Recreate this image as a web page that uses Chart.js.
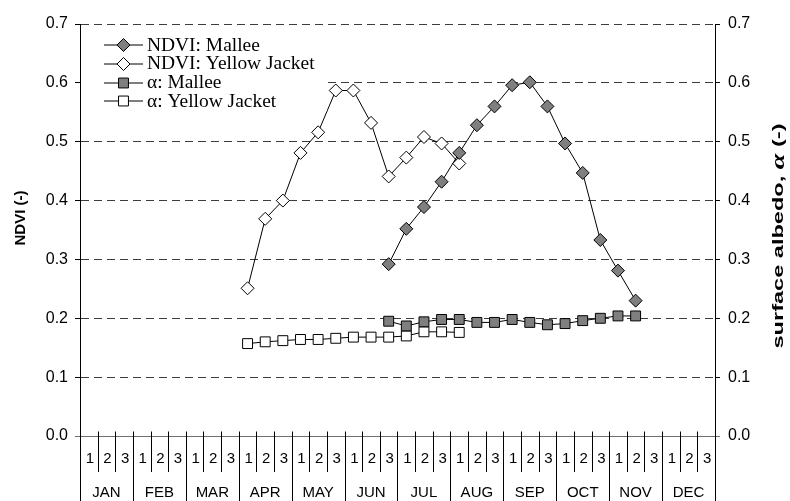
<!DOCTYPE html>
<html>
<head>
<meta charset="utf-8">
<script src="https://cdn.jsdelivr.net/npm/chart.js@4/dist/chart.umd.min.js"></script>
<style>
html,body{margin:0;padding:0;background:#fff;}
#wrap{width:790px;height:501px;position:relative;}
</style>
</head>
<body>
<div id="wrap"><canvas id="c" width="790" height="501"></canvas></div>
<script>
// ---- data ----
const months = ['JAN','FEB','MAR','APR','MAY','JUN','JUL','AUG','SEP','OCT','NOV','DEC'];
const dekads = ['1','2','3'];
const yTicks = [0.0,0.1,0.2,0.3,0.4,0.5,0.6,0.7];
const seriesNames = ['NDVI: Mallee','NDVI: Yellow Jacket','\u03b1: Mallee','\u03b1: Yellow Jacket'];

const ndviMallee = [null,null,null, null,null,null, null,null,null, null,null,null, null,null,null, null,null,0.292,
  0.352,0.389,0.432, 0.481,0.528,0.560, 0.596,0.601,0.560, 0.497,0.447,0.333, 0.281,0.230,null, null,null,null];
const ndviYellowJacket = [null,null,null, null,null,null, null,null,null, 0.251,0.369,0.400, 0.481,0.516,0.587, 0.587,0.532,0.441,
  0.473,0.508,0.497, 0.463,null,null, null,null,null, null,null,null, null,null,null, null,null,null];
const albedoMallee = [null,null,null, null,null,null, null,null,null, null,null,null, null,null,null, null,null,0.195,
  0.187,0.194,0.198, 0.198,0.193,0.193, 0.198,0.193,0.189, 0.191,0.196,0.200, 0.204,0.204,null, null,null,null];
const albedoYellowJacket = [null,null,null, null,null,null, null,null,null, 0.157,0.160,0.162, 0.164,0.164,0.166, 0.168,0.168,0.168,
  0.170,0.177,0.177, 0.176,null,null, null,null,null, null,null,null, null,null,null, null,null,null];

const categories = [];
months.forEach(m => dekads.forEach(d => categories.push(m + ' ' + d)));

const SANS = '"Liberation Sans", Arial, sans-serif';
const SERIF = '"Liberation Serif", "Times New Roman", serif';

function ds(label, data, style, fill, axis, r) {
  return {
    label, data, yAxisID: axis,
    borderColor: '#000', borderWidth: 1,
    pointStyle: style, pointRadius: r, pointHoverRadius: r,
    pointBackgroundColor: fill, pointBorderColor: '#000', pointBorderWidth: 1,
    spanGaps: false, tension: 0, fill: false
  };
}

const datasets = [
  ds(seriesNames[0], ndviMallee, 'rectRot', '#7f7f7f', 'y', 6.5),
  ds(seriesNames[1], ndviYellowJacket, 'rectRot', '#ffffff', 'y', 6.5),
  ds(seriesNames[2], albedoMallee, 'rect', '#7f7f7f', 'y2', 7),
  ds(seriesNames[3], albedoYellowJacket, 'rect', '#ffffff', 'y2', 7)
];

function crisp(v){ return Math.round(v) + 0.5; }

const decor = {
  id: 'decor',
  afterDraw(chart) {
    const ctx = chart.ctx;
    const xs = chart.scales.x;
    const ys = chart.scales.y;
    const {left, right, top, bottom} = chart.chartArea;
    const H = chart.height;
    ctx.save();
    // zero line (solid)
    const y0 = crisp(ys.getPixelForValue(0));
    ctx.strokeStyle = '#6e6e6e'; ctx.lineWidth = 1; ctx.setLineDash([]);
    ctx.beginPath(); ctx.moveTo(left - 5, y0); ctx.lineTo(right + 5, y0); ctx.stroke();

    // dekad / month separators
    const step = xs.getPixelForValue(1) - xs.getPixelForValue(0);
    ctx.strokeStyle = '#000';
    for (let i = 0; i <= categories.length; i++) {
      const xb = crisp(xs.getPixelForValue(0) - step / 2 + i * step);
      const yEnd = (i % 3 === 0) ? H : 472;
      ctx.beginPath(); ctx.moveTo(xb, y0 - 5); ctx.lineTo(xb, yEnd); ctx.stroke();
    }
    ctx.beginPath(); ctx.moveTo(crisp(left), top); ctx.lineTo(crisp(left), H); ctx.stroke();
    ctx.beginPath(); ctx.moveTo(crisp(right), top); ctx.lineTo(crisp(right), H); ctx.stroke();

    // x labels
    ctx.fillStyle = '#000';
    ctx.textAlign = 'center'; ctx.textBaseline = 'middle';
    ctx.font = '15px ' + SANS;
    categories.forEach((c, i) => {
      ctx.fillText(dekads[i % 3], xs.getPixelForValue(i) + 1, 459);
    });
    months.forEach((m, k) => {
      ctx.fillText(m, xs.getPixelForValue(k * 3 + 1), 493);
    });

    // left title
    ctx.save();
    ctx.translate(21, 218);
    ctx.rotate(-Math.PI / 2);
    ctx.font = 'bold 15px ' + SANS;
    ctx.textAlign = 'center';
    ctx.fillText('NDVI (-)', 0, 0);
    ctx.restore();

    // right title with bold italic alpha
    ctx.save();
    ctx.translate(779, 236);
    ctx.rotate(-Math.PI / 2);
    const parts = [
      ['surface albedo, ', 'bold 15px ' + SANS],
      ['\u03b1', 'bold italic 18px ' + SERIF],
      [' (-)', 'bold 15px ' + SANS]
    ];
    let total = 0;
    parts.forEach(p => { ctx.font = p[1]; total += ctx.measureText(p[0]).width; });
    const targetLen = 225;
    ctx.scale(targetLen / total, 1);
    let xx = -total / 2;
    ctx.textAlign = 'left';
    parts.forEach(p => { ctx.font = p[1]; ctx.fillText(p[0], xx, 0); xx += ctx.measureText(p[0]).width; });
    ctx.restore();

    // legend
    ctx.fillStyle = '#fff';
    ctx.fillRect(left + 1, 33, 246, 78);
    const rows = [45, 63.5, 82.5, 101];
    datasets.forEach((d, i) => {
      const yy = rows[i];
      ctx.setLineDash([]);
      ctx.strokeStyle = '#000'; ctx.lineWidth = 1;
      ctx.beginPath(); ctx.moveTo(104, Math.round(yy)); ctx.lineTo(143, Math.round(yy)); ctx.stroke();
      ctx.fillStyle = d.pointBackgroundColor;
      ctx.strokeStyle = '#000';
      Chart.helpers.drawPoint(ctx, {
        pointStyle: d.pointStyle, radius: d.pointRadius, rotation: 0, borderWidth: 1
      }, 123.5, Math.round(yy));
      ctx.save();
      ctx.fillStyle = '#000';
      ctx.font = '18px ' + SERIF;
      ctx.textAlign = 'left'; ctx.textBaseline = 'middle';
      ctx.translate(147, yy + 1);
      ctx.scale(1.08, 1);
      ctx.fillText(d.label, 0, 0);
      ctx.restore();
    });
    ctx.restore();
  }
};

const chart = new Chart(document.getElementById('c'), {
  type: 'line',
  data: { labels: categories, datasets },
  options: {
    responsive: false,
    animation: false,
    devicePixelRatio: 1,
    layout: { padding: { top: 24, left: 0, right: 0, bottom: 0 } },
    plugins: { legend: { display: false }, tooltip: { enabled: false } },
    scales: {
      x: {
        type: 'category', offset: true,
        grid: { display: false }, border: { display: false },
        ticks: { display: false },
        afterFit(s) { s.height = 65; }
      },
      y: {
        position: 'left', min: 0, max: 0.7,
        afterBuildTicks(s) { s.ticks = yTicks.map(v => ({ value: v })); },
        ticks: { callback: v => Number(v).toFixed(1), color: '#000', font: { family: SANS, size: 16 }, padding: 7 },
        grid: { color: '#3c3c3c', lineWidth: 1, tickLength: 5, tickColor: '#000', tickBorderDash: [] },
        border: { display: true, color: '#000', width: 1, dash: [8, 5] },
        afterFit(s) { s.width = 80; }
      },
      y2: {
        position: 'right', min: 0, max: 0.7,
        afterBuildTicks(s) { s.ticks = yTicks.map(v => ({ value: v })); },
        ticks: { callback: v => Number(v).toFixed(1), color: '#000', font: { family: SANS, size: 16 }, padding: 8 },
        grid: { drawOnChartArea: false, tickLength: 5, tickColor: '#000' },
        border: { display: true, color: '#000', width: 1 },
        afterFit(s) { s.width = 75; }
      }
    }
  },
  plugins: [decor]
});
</script>
</body>
</html>
